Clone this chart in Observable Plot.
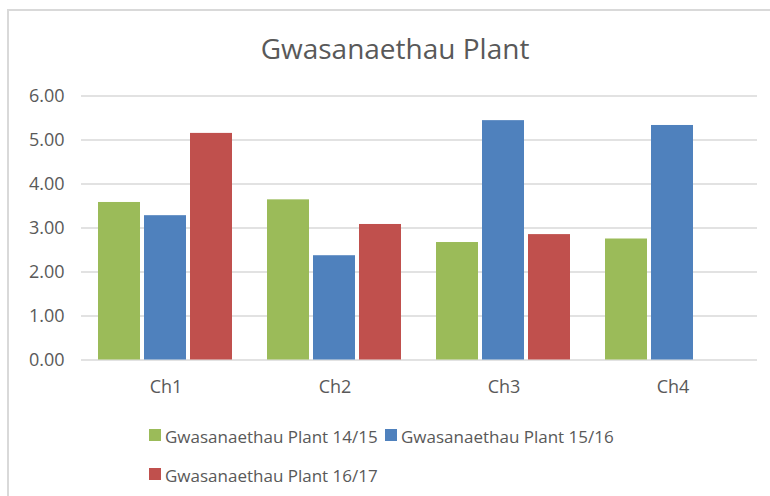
<!DOCTYPE html>
<html>
<head>
<meta charset="utf-8">
<script src="https://cdn.jsdelivr.net/npm/d3@7"></script>
<script src="https://cdn.jsdelivr.net/npm/@observablehq/plot@0.6"></script>
<style>
  html, body { margin: 0; padding: 0; background: #fff; }
  #wrap { position: relative; width: 770px; height: 496px; overflow: hidden; font-family: "Open Sans", sans-serif; color: #595959; }
  #frame { position: absolute; left: 7px; top: 9px; width: 800px; height: 600px; border-left: 2px solid #d9d9d9; border-top: 2px solid #d9d9d9; }
  #title { position: absolute; left: 0; width: 790px; top: 34px; text-align: center; font-size: 28px; line-height: 1; }
  #chart { position: absolute; left: 0; top: 0; }
  .leg { position: absolute; font-size: 17px; line-height: 1; white-space: nowrap; }
  .sw { position: absolute; width: 12px; height: 12px; }
</style>
</head>
<body>
<div id="wrap">
  <div id="frame"></div>
  <div id="chart"></div>
  <div id="title">Gwasanaethau Plant</div>
  <div id="legend"></div>
</div>
<script>
const categories = ["Ch1", "Ch2", "Ch3", "Ch4"];
const series = ["Gwasanaethau Plant 14/15", "Gwasanaethau Plant 15/16", "Gwasanaethau Plant 16/17"];
const values1415 = [3.58, 3.64, 2.67, 2.75];
const values1516 = [3.28, 2.37, 5.44, 5.33];
const values1617 = [5.15, 3.08, 2.85, null];
const colors = ["#9BBB59", "#4F81BD", "#C0504D"];
const yTicks = [0, 1, 2, 3, 4, 5, 6];

const seriesValues = [values1415, values1516, values1617];
const data = [];
categories.forEach((c, i) => {
  series.forEach((s, j) => {
    const v = seriesValues[j][i];
    if (v != null) data.push({cat: c, series: s, value: v});
  });
});

const chart = Plot.plot({
  width: 770,
  height: 400,
  marginLeft: 79,
  marginRight: 12,
  marginTop: 95.5,
  marginBottom: 40.5,
  style: {fontFamily: "Open Sans", fontSize: "18px", color: "#595959", background: "transparent"},
  fx: {domain: categories, paddingInner: 0, paddingOuter: 0, label: null, axis: "bottom", tickSize: 0, tickPadding: 20},
  x: {domain: series, axis: null, paddingInner: 0.085, paddingOuter: 0.348},
  y: {domain: [0, 6], ticks: yTicks, tickFormat: d => d.toFixed(2), tickSize: 0, tickPadding: 17, label: null},
  color: {domain: series, range: colors},
  marks: [
    Plot.gridY(yTicks, {stroke: "#d9d9d9", strokeOpacity: 1, strokeWidth: 1.5}),
    Plot.barY(data, {fx: "cat", x: "series", y: "value", fill: "series"})
  ]
});
document.getElementById("chart").appendChild(chart);

const legend = document.getElementById("legend");
const pos = [[149, 428], [385, 428], [149, 467]];
series.forEach((s, j) => {
  const sw = document.createElement("div");
  sw.className = "sw";
  sw.style.background = colors[j];
  sw.style.left = pos[j][0] + "px";
  sw.style.top = (pos[j][1] + 1) + "px";
  legend.appendChild(sw);
  const t = document.createElement("div");
  t.className = "leg";
  t.textContent = s;
  t.style.left = (pos[j][0] + 16) + "px";
  t.style.top = pos[j][1] + "px";
  legend.appendChild(t);
});
</script>
</body>
</html>
